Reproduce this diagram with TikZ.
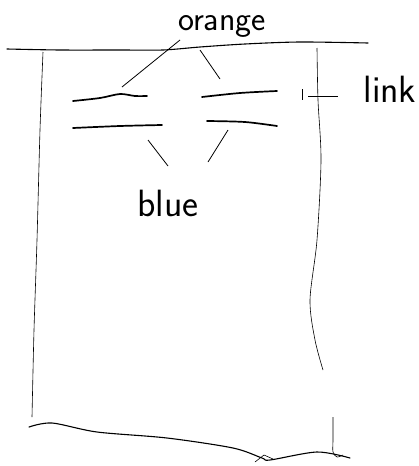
\documentclass[tikz,border=0pt]{standalone}
\usepackage{tikz}
\usetikzlibrary{positioning,calc}

\begin{document}
\begin{tikzpicture}[
		x=1pt, y=-1pt,
		word/.style={
			inner sep=0pt, anchor=base, font=\sffamily\fontsize{38}{42}\selectfont
		},
		wall/.style={line width=0.6pt, black},
		edge/.style={line width=1.1pt, black, line cap=round},
		dashline/.style={line width=1.7pt, black, line cap=round},
		leader/.style={line width=0.8pt, black}
		]
		
		\useasboundingbox (0,0) rectangle (419,466);
		
		% labels
		\node[word, font=\sffamily\fontsize{34}{38}\selectfont] (orange) at (222,30) {orange};
		\node[word] (blue) at (168,216) {blue};
		\node[word] (link) at (390,102) {link};
		
		% top edge
		\draw[edge] plot[smooth] coordinates {(7,49) (60,50) (120,50) (163,50) (200,47) (245,44) (300,42) (368,43)};
		
		% left wall
		\draw[wall] plot[smooth] coordinates {(43,52) (40,130) (37,240) (34,330) (32,417)};
		
		% right wall
		\draw[wall] plot[smooth] coordinates {(317,48) (318,100) (321,160) (317,240) (310,300) (315,340) (323,370)};
		\draw[wall] plot[smooth] coordinates {(333,417) (333,440) (333,452) (337,457) (343,455)};
		
		% bottom edge
		\draw[edge] plot[smooth] coordinates {(29,427) (52,423) (97,432) (167,438) (233,448) (262,458) (270,460) (317,452) (350,458)};
		\draw[wall] (255,462) -- (264,455) -- (273,459);
		
		% dashes
		\draw[dashline] plot[smooth] coordinates {(73,101) (100,98) (120,94) (135,96) (147,96)};
		\draw[dashline] plot[smooth] coordinates {(202,97) (240,93) (277,91)};
		\draw[dashline] plot[smooth] coordinates {(73,128) (120,126) (162,125)};
		\draw[dashline] plot[smooth] coordinates {(207,121) (245,122) (277,126)};
		
		% leader ends
		\coordinate (orangeA) at (180,40);
		\coordinate (dashA) at (122,87);
		\coordinate (orangeB) at (200,50);
		\coordinate (dashB) at (220,79);
		\coordinate (blueA) at (168,166);
		\coordinate (dashC) at (148,140);
		\coordinate (blueB) at (208,162);
		\coordinate (dashD) at (228,130);
		\coordinate (tickTop) at (302,89);
		\coordinate (tickBot) at (302,100);
		\coordinate (linkA) at (308,96);
		\coordinate (linkB) at (338,96);
		
		% leaders
		\draw[leader] (orangeA) -- (dashA);
		\draw[leader] (orangeB) -- (dashB);
		\draw[leader] (blueA) -- (dashC);
		\draw[leader] (blueB) -- (dashD);
		\draw[leader] (tickTop) -- (tickBot);
		\draw[leader] (linkA) -- (linkB);
	\end{tikzpicture}
\end{document}
